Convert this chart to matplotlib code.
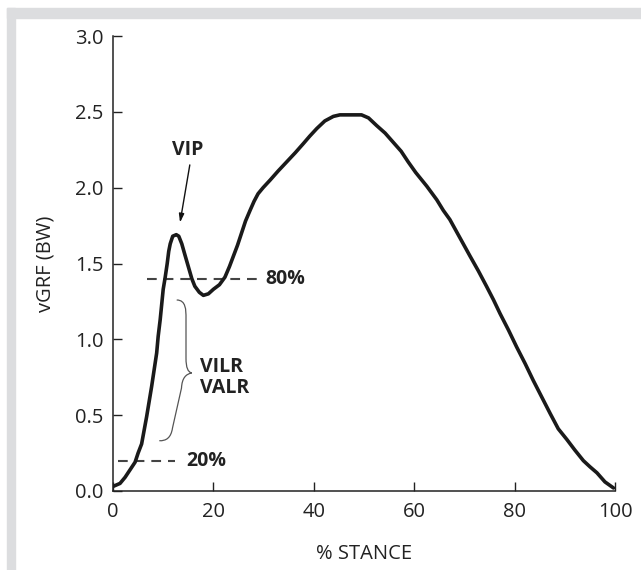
import matplotlib
matplotlib.use("Agg")
import matplotlib.pyplot as plt
from matplotlib.patches import Rectangle, PathPatch
from matplotlib.path import Path

plt.rcParams['font.family'] = ['Open Sans', 'DejaVu Sans']
plt.rcParams['lines.scale_dashes'] = False

# Data: vertical ground reaction force over stance
stance = [0.0, 1.4, 2.4, 3.4, 4.4, 5.0, 5.7, 6.2, 6.7, 7.2, 7.7, 8.2, 8.7, 9.0,
          9.4, 9.7, 10.0, 10.4, 10.8, 11.1, 11.4, 11.9, 12.6, 13.1, 13.7, 14.3,
          15.0, 15.7, 16.3, 17.2, 18.0, 19.0, 20.0, 21.2, 22.3, 23.2, 24.0,
          24.8, 25.6, 26.4, 27.3, 28.1, 28.9, 29.9, 31.3, 32.9, 34.6, 36.3,
          37.9, 39.2, 40.6, 42.2, 43.9, 45.2, 46.6, 49.5, 50.9, 52.5, 54.2,
          55.8, 57.4, 58.8, 60.3, 62.5, 64.5, 65.8, 67.1, 69.1, 71.1, 72.8,
          74.4, 75.8, 77.1, 78.8, 80.4, 82.1, 83.7, 85.4, 87.1, 88.7, 90.4,
          92.0, 93.7, 95.0, 96.4, 98.0, 99.7]
vgrf = [0.03, 0.05, 0.09, 0.14, 0.19, 0.25, 0.31, 0.40, 0.49, 0.59, 0.69, 0.80,
        0.91, 1.02, 1.13, 1.23, 1.33, 1.41, 1.50, 1.58, 1.63, 1.68, 1.69, 1.68,
        1.63, 1.56, 1.48, 1.40, 1.35, 1.31, 1.29, 1.30, 1.33, 1.36, 1.41,
        1.48, 1.55, 1.62, 1.70, 1.78, 1.85, 1.91, 1.96, 2.00, 2.05, 2.11,
        2.17, 2.23, 2.29, 2.34, 2.39, 2.44, 2.47, 2.48, 2.48, 2.48, 2.46,
        2.41, 2.36, 2.30, 2.24, 2.17, 2.10, 2.01, 1.92, 1.85, 1.79, 1.67,
        1.55, 1.45, 1.35, 1.26, 1.17, 1.06, 0.95, 0.84, 0.73, 0.62, 0.51,
        0.41, 0.34, 0.27, 0.20, 0.16, 0.12, 0.06, 0.02]

x_ticks = [0, 20, 40, 60, 80, 100]
y_ticks = [0.0, 0.5, 1.0, 1.5, 2.0, 2.5, 3.0]
y_ticklabels = ["0.0", "0.5", "1.0", "1.5", "2.0", "2.5", "3.0"]

level_80 = 1.40
level_20 = 0.20

fig = plt.figure(figsize=(6.41, 5.70), dpi=100)
fig.patch.set_facecolor('white')

# gray frame bands (top and left)
frame_col = '#dcdddf'
fig.patches.append(Rectangle((7/641, 1 - 18/570), 1 - 7/641, 10/570,
                             transform=fig.transFigure, color=frame_col, zorder=0))
fig.patches.append(Rectangle((7/641, 0), 8/641, 1 - 8/570,
                             transform=fig.transFigure, color=frame_col, zorder=0))

ax = fig.add_axes([113/641, 1 - 491/570, 502/641, 455/570])
ax.set_xlim(0, 100)
ax.set_ylim(0, 3.0)
ax.patch.set_alpha(0)

for s in ['top', 'right']:
    ax.spines[s].set_visible(False)
for s in ['left', 'bottom']:
    ax.spines[s].set_linewidth(1.1)
    ax.spines[s].set_color('#222222')

ax.set_xticks(x_ticks)
ax.set_yticks(y_ticks)
ax.set_yticklabels(y_ticklabels)
ax.tick_params(direction='in', length=6.5, width=1.0, color='#222222',
               labelsize=14.5, labelcolor='#222222')
ax.tick_params(axis='x', pad=8)
ax.tick_params(axis='y', pad=7)

ax.set_xlabel('% STANCE', fontsize=14.5, color='#222222', labelpad=16)
ax.set_ylabel('vGRF (BW)', fontsize=14.5, color='#222222', labelpad=14)

# curve
ax.plot(stance, vgrf, color='#1a1a1a', lw=2.6, solid_capstyle='round',
        solid_joinstyle='round', zorder=3)

# dashed threshold lines
ax.plot([6.8, 29.3], [level_80, level_80], color='#444444', lw=1.5,
        dashes=(7, 5), zorder=2)
ax.plot([1.0, 12.4], [level_20, level_20], color='#444444', lw=1.5,
        dashes=(7, 5), zorder=2)
ax.text(30.3, level_80, '80%', fontsize=14, fontweight='bold', color='#222222',
        va='center', ha='left')
ax.text(14.5, level_20, '20%', fontsize=14, fontweight='bold', color='#222222',
        va='center', ha='left')

# VIP annotation
ax.annotate('', xy=(13.35, 1.77), xytext=(15.3, 2.15),
            arrowprops=dict(arrowstyle='-|>,head_length=0.5,head_width=0.15',
                            color='#111111', lw=1.0, shrinkA=0, shrinkB=0))
ax.text(14.9, 2.25, 'VIP', fontsize=14, fontweight='bold', color='#222222',
        ha='center', va='center')

# brace
def px2d(px, py):
    return ((px - 113) / 5.02, (491 - py) / 151.67)

brace_px = [(176.7, 300), (186, 300), (186, 310), (186, 318),
            (186, 358),
            (186, 368), (188, 372), (191.7, 373),
            (186, 374), (182, 378), (181.5, 388),
            (172.5, 428),
            (171, 438), (166, 441), (159.3, 440.7)]
codes = [Path.MOVETO, Path.CURVE4, Path.CURVE4, Path.CURVE4,
         Path.LINETO,
         Path.CURVE4, Path.CURVE4, Path.CURVE4,
         Path.CURVE4, Path.CURVE4, Path.CURVE4,
         Path.LINETO,
         Path.CURVE4, Path.CURVE4, Path.CURVE4]
brace = Path([px2d(*p) for p in brace_px], codes)
ax.add_patch(PathPatch(brace, fill=False, edgecolor='#555555', lw=0.9, zorder=2))

ax.text(17.3, 0.82, 'VILR', fontsize=14, fontweight='bold', color='#222222',
        ha='left', va='center')
ax.text(17.3, 0.68, 'VALR', fontsize=14, fontweight='bold', color='#222222',
        ha='left', va='center')

fig.savefig('out.png', dpi=100, facecolor='white')
